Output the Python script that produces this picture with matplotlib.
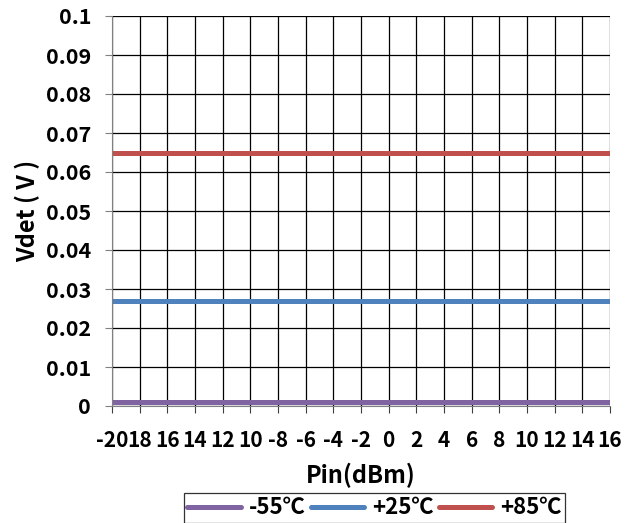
import matplotlib.pyplot as plt

plt.rcParams['font.family'] = ['Noto Sans CJK SC', 'DejaVu Sans']
plt.rcParams['font.weight'] = 'bold'

# data
pin = [-20, -18, -16, -14, -12, -10, -8, -6, -4, -2, 0, 2, 4, 6, 8, 10, 12, 14, 16]
tick_labels = ['-20', '18', '16', '14', '12', '10', '-8', '-6', '-4', '-2',
               '0', '2', '4', '6', '8', '10', '12', '14', '16']
vdet_m55 = [0.001] * 19
vdet_p25 = [0.027] * 19
vdet_p85 = [0.065] * 19

fig = plt.figure(figsize=(6.35, 5.23), dpi=100)
ax = fig.add_axes([112 / 635, 1 - 406 / 523, 498 / 635, 390 / 523])

ax.plot(pin, vdet_m55, color='#8064A2', lw=3.6, label='-55℃', solid_capstyle='round')
ax.plot(pin, vdet_p25, color='#4F81BD', lw=3.6, label='+25℃', solid_capstyle='round')
ax.plot(pin, vdet_p85, color='#C0504D', lw=3.6, label='+85℃', solid_capstyle='round')

ax.set_xlim(-20, 16)
ax.set_ylim(0, 0.1)
ax.set_xticks(pin)
ax.set_xticklabels(tick_labels, fontsize=15, fontweight='bold')
ax.set_yticks([i / 100 for i in range(11)])
ax.set_yticklabels(['0'] + ['%g' % (i / 100) for i in range(1, 11)], fontsize=15.5, fontweight='bold')
ax.tick_params(axis='x', length=5, width=0.8, pad=12, direction='out', color='#404040')
ax.tick_params(axis='y', length=5, width=0.8, pad=10, direction='out', color='#808080')
ax.grid(True, color='black', lw=0.9)
ax.set_axisbelow(True)
for s in ['top', 'right']:
    ax.spines[s].set_visible(False)
ax.spines['left'].set_color('#808080')
ax.spines['bottom'].set_color('#808080')

ax.set_xlabel('Pin(dBm)', fontsize=17, fontweight='bold', labelpad=9)
ax.set_ylabel('Vdet ( V )', fontsize=17, fontweight='bold', labelpad=4)

leg = fig.legend(loc='upper left', bbox_to_anchor=(184 / 635, 1 - 493 / 523), ncol=3,
                 fontsize=16, frameon=True, fancybox=False, handlelength=2.4,
                 handletextpad=0.35, columnspacing=0.25, borderpad=0.15,
                 borderaxespad=0)
leg.get_frame().set_edgecolor('black')
leg.get_frame().set_linewidth(0.9)
for t in leg.get_texts():
    t.set_fontweight('bold')

fig.savefig('out.png', dpi=100)
